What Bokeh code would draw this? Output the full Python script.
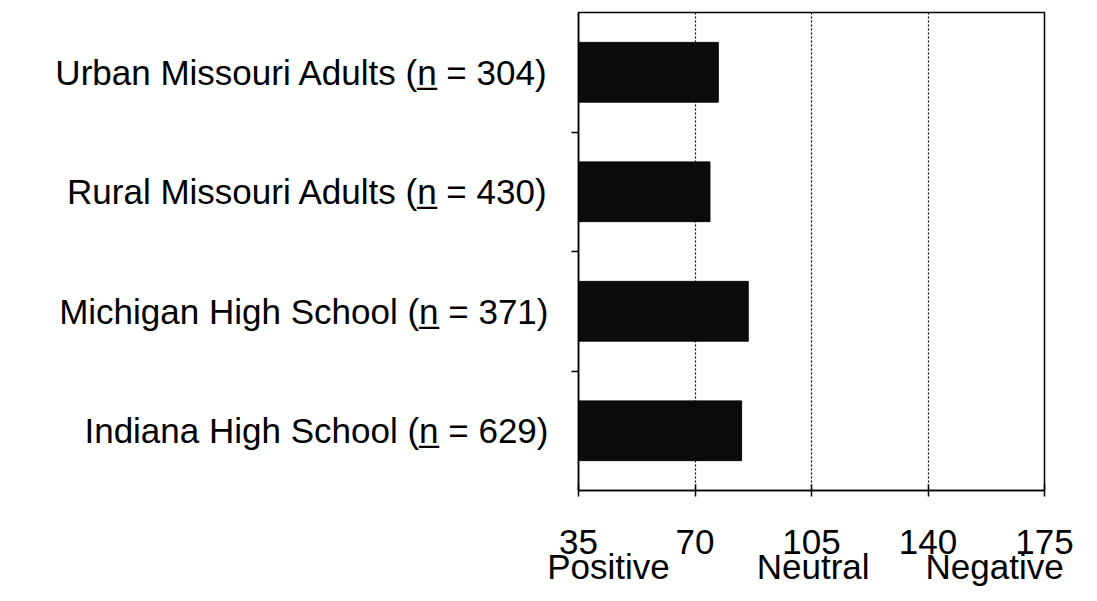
from bokeh.plotting import figure
from bokeh.models import FixedTicker, LinearAxis, Range1d
from bokeh.embed import file_html
from bokeh.resources import INLINE

categories = ["Urban Missouri Adults (n\u0332 = 304)",
              "Rural Missouri Adults (n\u0332 = 430)",
              "Michigan High School (n\u0332 = 371)",
              "Indiana High School (n\u0332 = 629)"]
values = [77, 74.5, 86, 84]
x_ticks = [35, 70, 105, 140, 175]
scale_words = ["Positive", "Neutral", "Negative"]
scale_word_pos = [44, 105.5, 160]

n = len(categories)
ys = [n - i - 0.5 for i in range(n)]

FONT = "Liberation Sans"
FS = "35px"

p = figure(width=1081, height=592, output_backend="svg", toolbar_location=None,
           x_range=Range1d(35, 175), y_range=Range1d(0, n),
           min_border_left=578, min_border_right=37, min_border_top=12, min_border_bottom=102)
p.background_fill_color = "white"
p.border_fill_color = "white"
p.outline_line_color = "black"
p.outline_line_width = 1.5

p.hbar(y=ys, right=values, left=35, height=0.5, fill_color="#0b0b0b", line_color="#0b0b0b")

# x axis
xa = p.xaxis[0]
xa.ticker = FixedTicker(ticks=x_ticks, minor_ticks=[])
xa.major_tick_in = 6
xa.major_tick_out = 6
xa.axis_line_color = "black"
xa.axis_line_width = 1.5
xa.major_tick_line_width = 1.5
xa.major_label_text_font = FONT
xa.major_label_text_font_size = FS
xa.major_label_text_color = "black"
xa.major_label_standoff = 33

# second row of scale words
xa2 = LinearAxis(ticker=FixedTicker(ticks=scale_word_pos, minor_ticks=[]),
                 major_label_overrides={pos: w for pos, w in zip(scale_word_pos, scale_words)})
xa2.axis_line_color = None
xa2.major_tick_line_color = None
xa2.major_tick_in = 0
xa2.major_tick_out = 0
xa2.major_label_text_font = FONT
xa2.major_label_text_font_size = FS
xa2.major_label_text_color = "black"
xa2.major_label_standoff = -10
p.add_layout(xa2, "below")

# y axis
ya = p.yaxis[0]
ya.ticker = FixedTicker(ticks=ys, minor_ticks=[float(i) for i in range(1, n)])
ya.major_label_overrides = {y: c for y, c in zip(ys, categories)}
ya.major_tick_in = 0
ya.major_tick_out = 0
ya.minor_tick_in = 0
ya.minor_tick_out = 7
ya.minor_tick_line_width = 1.5
ya.axis_line_color = "black"
ya.axis_line_width = 1.5
ya.major_label_text_font = FONT
ya.major_label_text_font_size = FS
ya.major_label_text_color = "black"
ya.major_label_standoff = 23

p.ygrid.grid_line_color = None
p.xgrid.ticker = FixedTicker(ticks=[70, 105, 140])
p.xgrid.grid_line_color = "black"
p.xgrid.grid_line_dash = "2 2"
p.xgrid.grid_line_width = 1.2

open("out.html", "w").write(file_html(p, INLINE))
